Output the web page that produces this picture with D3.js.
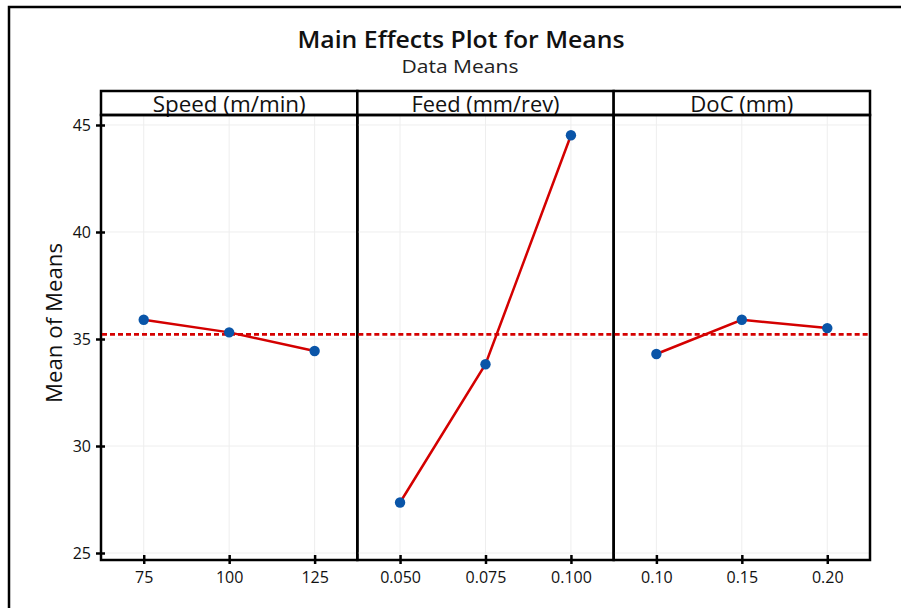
<!DOCTYPE html>
<html><head><meta charset="utf-8">
<script src="https://cdn.jsdelivr.net/npm/d3@7"></script>
<style>body{margin:0;background:#fff}svg{display:block}</style>
</head><body>
<script>
const factors = ["Speed (m/min)", "Feed (mm/rev)", "DoC (mm)"];
const speedLevels = ["75", "100", "125"];
const speedMeans = [35.90, 35.31, 34.44];
const feedLevels = ["0.050", "0.075", "0.100"];
const feedMeans = [27.36, 33.82, 44.52];
const docLevels = ["0.10", "0.15", "0.20"];
const docMeans = [34.30, 35.90, 35.51];
const grandMean = 35.22;
const yTicks = [25, 30, 35, 40, 45];

const levels = [speedLevels, feedLevels, docLevels];
const means = [speedMeans, feedMeans, docMeans];
const headerWidths = [153, 148, 103];

const W = 901, H = 608;
const plotL = 101, plotR = 870, headT = 91, plotT = 115, plotB = 560;
const svg = d3.select("body").append("svg").attr("width", W).attr("height", H);
const font = "'Open Sans', 'Noto Sans', sans-serif";

// outer frame
svg.append("rect").attr("x", 9).attr("y", 7).attr("width", 1000).attr("height", 800)
  .attr("fill", "none").attr("stroke", "#000").attr("stroke-width", 2.5);

// titles
svg.append("text").attr("x", 461).attr("y", 47.5).attr("text-anchor", "middle")
  .attr("font-family", font).attr("font-weight", 600).attr("font-size", 22.5).attr("fill", "#111")
  .attr("textLength", 327).attr("lengthAdjust", "spacingAndGlyphs")
  .text("Main Effects Plot for Means");
svg.append("text").attr("x", 460).attr("y", 72.5).attr("text-anchor", "middle")
  .attr("font-family", font).attr("font-size", 19).attr("fill", "#222")
  .attr("textLength", 117).attr("lengthAdjust", "spacingAndGlyphs")
  .text("Data Means");

const y = d3.scaleLinear().domain([24.673, 45.467]).range([plotB, plotT]);
const panel = d3.scaleBand().domain(factors).range([plotL, plotR]).padding(0);
const pw = panel.bandwidth();

// y label
svg.append("text").attr("transform", `translate(62,323) rotate(-90)`).attr("text-anchor", "middle")
  .attr("font-family", font).attr("font-size", 21).attr("fill", "#111")
  .attr("textLength", 160).attr("lengthAdjust", "spacingAndGlyphs").text("Mean of Means");

factors.forEach((f, i) => {
  const x0 = panel(f), x1 = x0 + pw;
  const x = d3.scalePoint().domain(levels[i]).range([x0, x1]).padding(0.5);
  const g = svg.append("g");
  // gridlines
  g.selectAll(".gx").data(levels[i]).join("line")
    .attr("x1", d => x(d)).attr("x2", d => x(d)).attr("y1", plotT).attr("y2", plotB)
    .attr("stroke", "#eeeeee").attr("stroke-width", 1);
  g.selectAll(".gy").data(yTicks).join("line")
    .attr("x1", x0).attr("x2", x1).attr("y1", d => y(d)).attr("y2", d => y(d))
    .attr("stroke", "#eeeeee").attr("stroke-width", 1);
  // x axis
  const ax = svg.append("g").attr("transform", `translate(0,${plotB})`)
    .call(d3.axisBottom(x).tickSize(4).tickSizeOuter(0).tickPadding(8));
  ax.select(".domain").remove();
  ax.selectAll(".tick line").attr("y1", -5).attr("y2", 4).attr("stroke", "#000").attr("stroke-width", 2.5);
  ax.selectAll(".tick text").attr("font-family", font).attr("font-size", 16).attr("fill", "#111");
  // header
  svg.append("rect").attr("x", x0).attr("y", headT).attr("width", pw).attr("height", plotT - headT)
    .attr("fill", "#fff").attr("stroke", "#000").attr("stroke-width", 2.5);
  svg.append("text").attr("x", (x0 + x1) / 2).attr("y", 112).attr("text-anchor", "middle")
    .attr("font-family", font).attr("font-size", 21).attr("fill", "#111")
    .attr("textLength", headerWidths[i]).attr("lengthAdjust", "spacingAndGlyphs").text(f);
  // panel border
  svg.append("rect").attr("x", x0).attr("y", plotT).attr("width", pw).attr("height", plotB - plotT)
    .attr("fill", "none").attr("stroke", "#000").attr("stroke-width", 2.5);
  // mean line
  svg.append("line").attr("x1", x0 + 1).attr("x2", x1 - 1).attr("y1", y(grandMean)).attr("y2", y(grandMean))
    .attr("stroke", "#d40000").attr("stroke-width", 2.8).attr("stroke-dasharray", "5,3");
  // series line
  const pts = levels[i].map((l, k) => [x(l), y(means[i][k])]);
  svg.append("path").attr("d", d3.line()(pts)).attr("fill", "none")
    .attr("stroke", "#d40000").attr("stroke-width", 2.5);
  svg.append("g").selectAll("circle").data(pts).join("circle")
    .attr("cx", d => d[0]).attr("cy", d => d[1]).attr("r", 5.2).attr("fill", "#0a55a8");
});

// y axis
const ay = svg.append("g").attr("transform", `translate(${plotL},0)`)
  .call(d3.axisLeft(y).tickValues(yTicks).tickSize(4).tickPadding(6));
ay.select(".domain").remove();
ay.selectAll(".tick line").attr("x1", -5).attr("x2", 4).attr("stroke", "#000").attr("stroke-width", 2.5);
ay.selectAll(".tick text").attr("font-family", font).attr("font-size", 16).attr("fill", "#111");
</script>
</body></html>
